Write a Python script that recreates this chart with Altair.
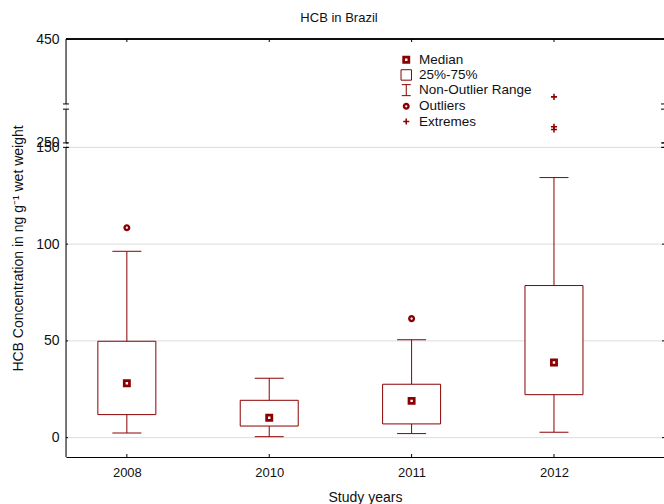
import json
import altair as alt
import pandas as pd

# ---------------- data ----------------
years = ["2008", "2010", "2011", "2012"]
q1 = [11.9, 6.0, 7.1, 22.2]
q3 = [49.8, 19.3, 27.6, 78.6]
medians = [28.1, 10.3, 19.0, 38.8]
whisker_low = [2.4, 0.5, 2.1, 2.8]
whisker_high = [96.3, 30.7, 50.6, 134.4]
outlier_years = ["2008", "2011"]
outlier_values = [108.5, 61.5]
extreme_years = ["2012", "2012", "2012"]
extreme_values = [338.6, 281.3, 276.0]

y_ticks = [0, 50, 100, 150, 250, 450]
grid_values = [0, 50, 100, 150]
segment_low = [-10, 250, 325]
segment_high = [150, 315, 450]
break_values = [150, 250, 315, 325]

legend_items = ["Median", "25%-75%", "Non-Outlier Range", "Outliers", "Extremes"]

# ---------------- style ----------------
RED = "#8B0000"
FONT = "Liberation Sans"
W, H = 598, 418
Y_TITLE = "HCB Concentration in ng g\u207b\u00b9 wet weight"

# broken y scale: 0..150 linear, 250..450 compressed above a break
B_LO, B_HI, B_POS, K = 150, 250, 152.3, 0.2685


def to_plot(v):
    return v if v <= B_LO else B_POS + (v - B_HI) * K


def plot_expr(f):
    d = f"datum['{f}']"
    return f"{d} <= {B_LO} ? {d} : {B_POS} + ({d} - {B_HI}) * {K}"


y_scale = alt.Scale(domain=[-10, to_plot(450)], nice=False, zero=False)
y_axis = alt.Axis(
    values=[to_plot(v) for v in y_ticks],
    labelExpr=f"datum.value > {B_LO + 1} ? format({B_HI} + (datum.value - {B_POS}) / {K}, '.0f') : format(datum.value, '.0f')",
    grid=False, ticks=False, domain=False, labelOverlap=False,
    labelFont=FONT, labelFontSize=14, labelColor="#111", labelPadding=7,
    titleFont=FONT, titleFontSize=14, titleFontWeight="normal", titleColor="#111",
    titlePadding=10,
)
x_scale = alt.Scale(domain=[0.6077, 4.7376], nice=False, zero=False)
x_axis = alt.Axis(
    values=[1, 2, 3, 4],
    labelExpr=f"{json.dumps(years)}[round(datum.value) - 1]",
    grid=False, ticks=False, domain=True, domainColor="#000", domainWidth=1,
    labelFont=FONT, labelFontSize=13, labelColor="#111", labelPadding=9,
    titleFont=FONT, titleFontSize=14, titleFontWeight="normal", titleColor="#111",
    titlePadding=11,
)


def Y(f):
    return alt.Y(f, type="quantitative", scale=y_scale, axis=y_axis, title=Y_TITLE)


def Y2(f):
    return alt.Y2(f)


def X(f="idx"):
    return alt.X(f, type="quantitative", scale=x_scale, axis=x_axis, title="Study years")


# ---------------- tables ----------------
box_df = pd.DataFrame({
    "idx": [i + 1 for i in range(len(years))], "year": years,
    "q1": q1, "q3": q3, "med": medians, "lo": whisker_low, "hi": whisker_high,
})
pts = []
for i, y in enumerate(years):
    pts.append({"idx": i + 1, "v": medians[i], "kind": "Median"})
for y, v in zip(outlier_years, outlier_values):
    pts.append({"idx": years.index(y) + 1, "v": v, "kind": "Outliers"})
for y, v in zip(extreme_years, extreme_values):
    pts.append({"idx": years.index(y) + 1, "v": v, "kind": "Extremes"})
pts_df = pd.DataFrame(pts)
grid_df = pd.DataFrame({"v": grid_values})
tick_df = pd.DataFrame({"v": y_ticks})
seg_df = pd.DataFrame({"lo": segment_low, "hi": segment_high})
brk_df = pd.DataFrame({"v": break_values})
xt_df = pd.DataFrame({"idx": [i + 1 for i in range(len(years))]})

calc_box = dict(q1p=plot_expr("q1"), q3p=plot_expr("q3"), lop=plot_expr("lo"), hip=plot_expr("hi"))

# ---------------- layers ----------------
grid = alt.Chart(grid_df).transform_calculate(yp=plot_expr("v")).mark_rule(
    color="#dcdcdc", strokeWidth=1
).encode(y=Y("yp:Q"), x=alt.value(0), x2=alt.value(W))

boxes = alt.Chart(box_df).transform_calculate(**calc_box).mark_bar(
    size=58, fill="white", stroke=RED, strokeWidth=1
).encode(x=X(), y=Y("q1p:Q"), y2=Y2("q3p:Q"))

wh_up = alt.Chart(box_df).transform_calculate(**calc_box).mark_rule(
    color=RED, strokeWidth=1
).encode(x=X(), y=Y("q3p:Q"), y2=Y2("hip:Q"))
wh_dn = alt.Chart(box_df).transform_calculate(**calc_box).mark_rule(
    color=RED, strokeWidth=1
).encode(x=X(), y=Y("lop:Q"), y2=Y2("q1p:Q"))
cap_up = alt.Chart(box_df).transform_calculate(**calc_box).mark_tick(
    orient="horizontal", size=29, thickness=1, color=RED, opacity=1
).encode(x=X(), y=Y("hip:Q"))
cap_dn = alt.Chart(box_df).transform_calculate(**calc_box).mark_tick(
    orient="horizontal", size=29, thickness=1, color=RED, opacity=1
).encode(x=X(), y=Y("lop:Q"))

SHAPES = [
    "M-0.72,-0.72H0.72V0.72H-0.72Z M-0.22,-0.22V0.22H0.22V-0.22Z",
    "M-0.95,-0.95H0.95V0.95H-0.95Z",
    "M-0.82,-1H0.82M0,-1V1M-0.82,1H0.82",
    "M-0.64,0A0.64,0.64 0 1,0 0.64,0A0.64,0.64 0 1,0 -0.64,0Z M-0.2,0A0.2,0.2 0 1,1 0.2,0A0.2,0.2 0 1,1 -0.2,0Z",
    "M-0.14,-0.55H0.14V-0.14H0.55V0.14H0.14V0.55H-0.14V0.14H-0.55V-0.14H-0.14Z",
]
FILLS = [RED, "transparent", "transparent", RED, RED]
STROKES = ["transparent", RED, RED, "transparent", "transparent"]

leg = alt.Legend(
    title=None, orient="none", legendX=333.5, legendY=14, padding=0,
    symbolSize=121, symbolStrokeWidth=1, labelFont=FONT, labelFontSize=13.5,
    labelColor="#111", labelOffset=6, rowPadding=0.2,
)

points = alt.Chart(pts_df).transform_calculate(yp=plot_expr("v")).mark_point(
    size=121, strokeWidth=1, opacity=1
).encode(
    x=X(), y=Y("yp:Q"),
    shape=alt.Shape("kind:N", scale=alt.Scale(domain=legend_items, range=SHAPES), legend=leg),
    fill=alt.Fill("kind:N", scale=alt.Scale(domain=legend_items, range=FILLS), legend=leg),
    stroke=alt.Stroke("kind:N", scale=alt.Scale(domain=legend_items, range=STROKES), legend=leg),
)

# frame: broken left axis, break marks, inside ticks, top border
left_line = alt.Chart(seg_df).transform_calculate(lp=plot_expr("lo"), hp=plot_expr("hi")).mark_rule(
    color="#000", strokeWidth=1
).encode(x=alt.value(0), y=Y("lp:Q"), y2=Y2("hp:Q"))
breaks_l = alt.Chart(brk_df).transform_calculate(yp=plot_expr("v")).mark_tick(
    orient="horizontal", size=6, thickness=1, color="#000", opacity=1
).encode(x=alt.value(0), y=Y("yp:Q"))
breaks_r = alt.Chart(brk_df).transform_calculate(yp=plot_expr("v")).mark_tick(
    orient="horizontal", size=6, thickness=1, color="#000", opacity=1
).encode(x=alt.value(W), y=Y("yp:Q"))
yticks_l = alt.Chart(tick_df).transform_calculate(yp=plot_expr("v")).mark_rule(
    color="#000", strokeWidth=1
).encode(x=alt.value(0), x2=alt.value(2), y=Y("yp:Q"))
yticks_r = alt.Chart(tick_df).transform_calculate(yp=plot_expr("v")).mark_rule(
    color="#000", strokeWidth=1
).encode(x=alt.value(W - 2), x2=alt.value(W), y=Y("yp:Q"))
xticks_b = alt.Chart(xt_df).mark_rule(color="#000", strokeWidth=1).encode(
    x=X(), y=alt.value(H - 3), y2=alt.value(H))
xticks_t = alt.Chart(xt_df).mark_rule(color="#000", strokeWidth=1).encode(
    x=X(), y=alt.value(0), y2=alt.value(3))
top_line = alt.Chart(xt_df).mark_rule(color="#000", strokeWidth=1).encode(
    x=alt.value(0), x2=alt.value(W), y=alt.value(0))

chart = alt.layer(
    grid, boxes, wh_up, wh_dn, cap_up, cap_dn, points,
    left_line, breaks_l, breaks_r, yticks_l, yticks_r, xticks_b, xticks_t, top_line,
).properties(
    width=W, height=H,
    autosize=alt.AutoSizeParams(type="none"),
    padding={"left": 66, "top": 39, "right": 0, "bottom": 47},
    title=alt.TitleParams(
        "HCB in Brazil", font=FONT, fontSize=13, fontWeight="normal", color="#111",
        anchor="middle", dx=-26, dy=3, offset=0, baseline="alphabetic",
    ),
).configure_view(strokeWidth=0).configure(background="white")

chart.save("out.html", embed_options={"renderer": "svg", "actions": False})
